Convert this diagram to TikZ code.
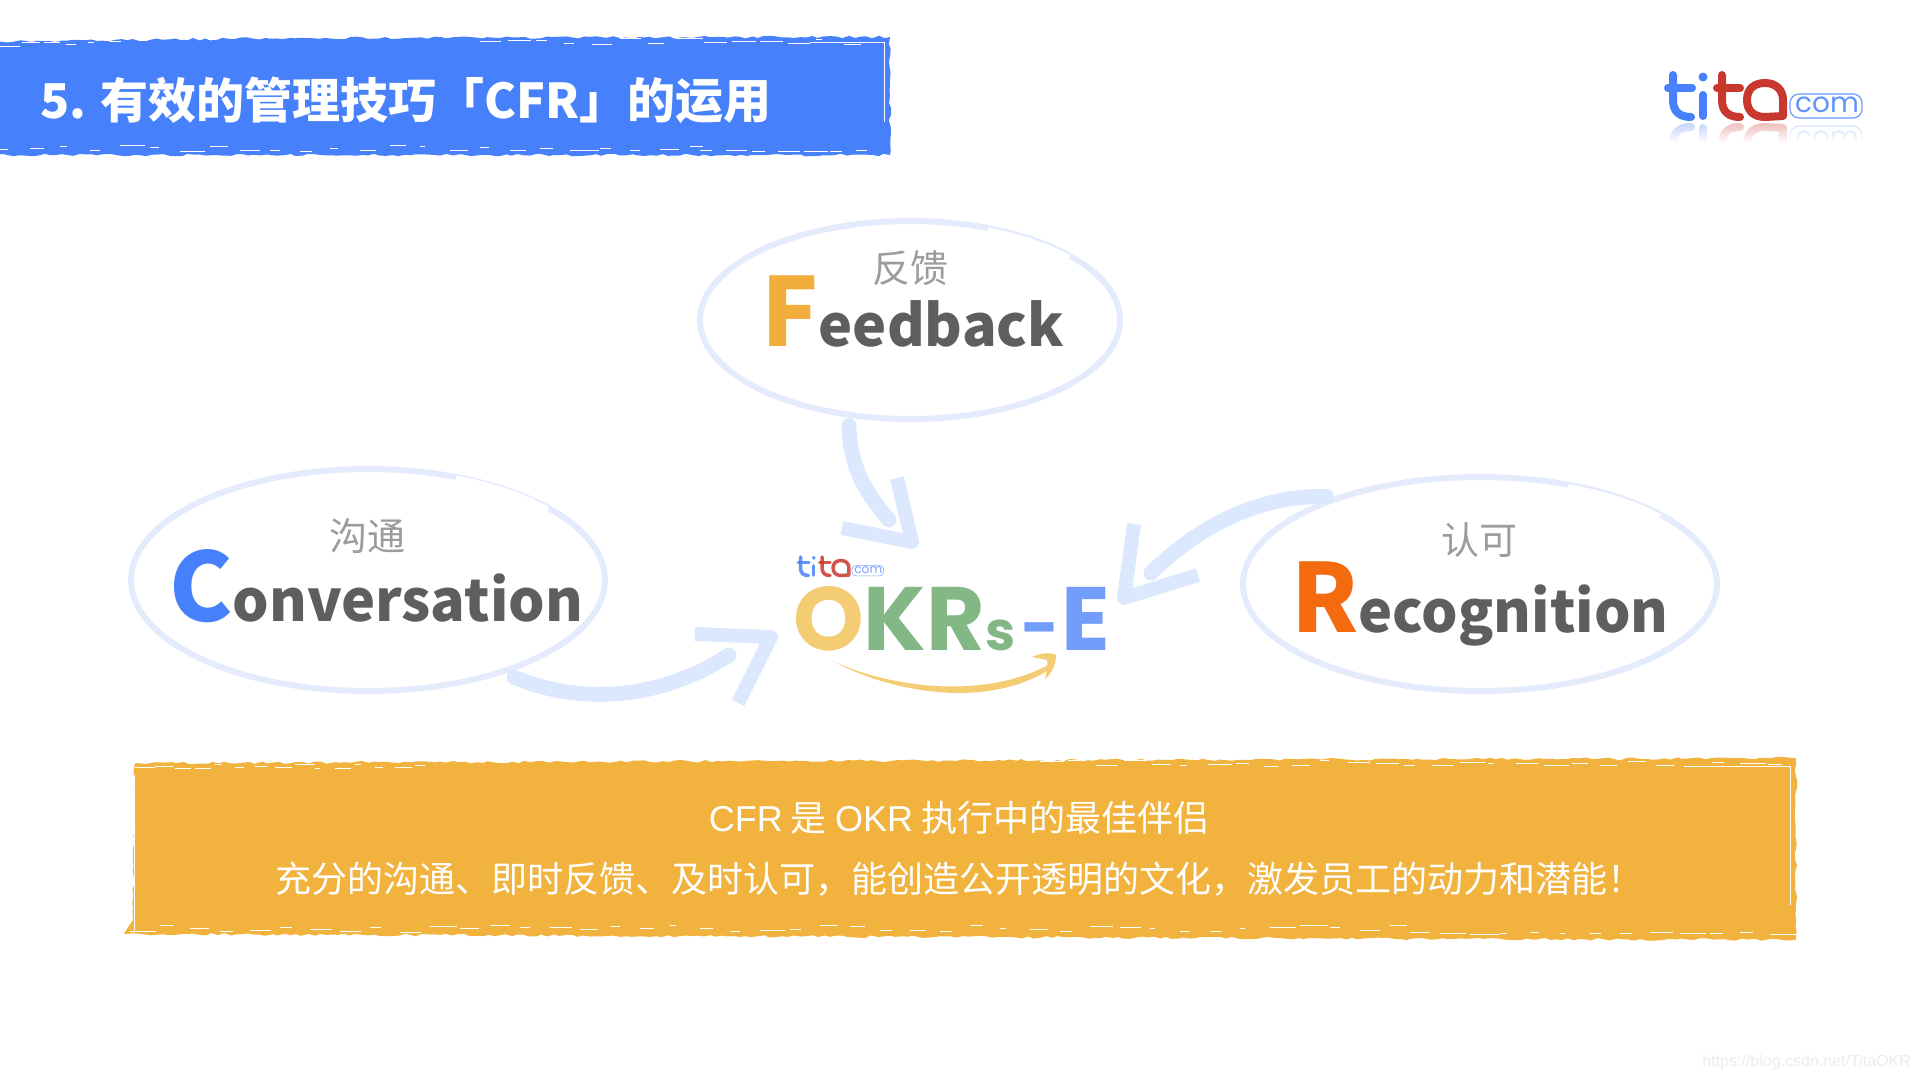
\documentclass[tikz,border=0pt]{standalone}
\usepackage{fontspec}
\setmainfont{Noto Sans}
\newfontfamily\cjk{Noto Sans CJK SC}
\newfontfamily\latinf{Liberation Sans}
\newfontfamily\okrf{Poppins}
\usetikzlibrary{shapes.geometric,decorations.pathmorphing,fadings}
\definecolor{slideblue}{HTML}{4680FA}
\definecolor{slideorange}{HTML}{F2B23E}
\definecolor{palering}{HTML}{E3EBFC}
\definecolor{palearrow}{HTML}{DCE8FD}
\definecolor{labelgray}{HTML}{9C9C9C}
\definecolor{worddark}{HTML}{5E5E5E}
\definecolor{lettercf}{HTML}{F2AE3C}
\definecolor{letterr}{HTML}{F46A0F}
\definecolor{okryellow}{HTML}{F4CC74}
\definecolor{okrgreen}{HTML}{83B785}
\definecolor{okrblue}{HTML}{739DFB}
\definecolor{titared}{HTML}{C8382E}
\newcommand{\brushrow}[5]{\foreach \xa in {#1,#2,...,#3} {
  \pgfmathsetmacro{\xb}{\xa+5+rnd*(#2-#1)*.8}
  \pgfmathsetmacro{\ya}{#4+rnd*#5}
  \path[draw,streak] (\xa,\ya) -- (\xb,\ya);
}}
\tikzset{
  ring/.style={draw=palering, line width=6pt, ellipse, inner sep=0pt},
  ringgap/.style={white, line width=5pt},
  shaft/.style={palearrow, line width=15pt, line cap=round},
  barb/.style={palearrow, line width=14pt, line join=round},
  brush/.style={decorate, decoration={random steps, segment length=6pt, amplitude=1.3pt}},
  streak/.style={white, line width=.9pt},
  cnlabel/.style={labelgray, inner sep=0pt, font=\cjk\fontsize{38}{38}\selectfont},
  bigword/.style={anchor=base west, inner sep=0pt, font=\cjk\bfseries},
  pics/titalogo/.style={code={
    \begin{scope}[scale=#1, line cap=round, line width=#1*8pt]
    \draw[slideblue] (33,25) -- (33,50) .. controls (33,62) and (40,67) .. (51,67);
    \draw[slideblue] (28,38) -- (52,38);
    \fill[slideblue] (63,27) circle (4.5pt);
    \draw[slideblue] (63,45) -- (63,66);
    \draw[titared] (82,25) -- (82,50) .. controls (82,62) and (89,67) .. (100,67);
    \draw[titared] (77,38) -- (100,38);
    \draw[titared] (143,66) -- (125,67) .. controls (113,67) and (107,60) .. (107,50) .. controls (107,39) and (114,33) .. (125,33) .. controls (136,33) and (143,40) .. (143,50) -- (143,66);
    \draw[slideblue!80, line width=#1*1.2pt, rounded corners=#1*9pt] (150,44) rectangle (222,68);
    \node[slideblue!85, scale=#1, inner sep=0pt, font=\okrf\fontsize{28}{28}\selectfont] (comtext) at (187,55) {com};
    \end{scope}
  }}
}
\begin{document}
\begin{tikzpicture}[x=1pt,y=-1pt]
\useasboundingbox (0,0) rectangle (1920,1080);
\pgfmathsetseed{7}
\fill[slideblue, brush] (-5,42) -- (290,38) -- (890,37) -- (890,155) -- (-5,155) -- cycle;
\brushrow{0}{22}{125}{41}{6}
\brushrow{480}{508}{880}{38}{7}
\brushrow{0}{30}{690}{145}{6}
\brushrow{700}{726}{880}{150}{2}
\path[draw,streak] (810,42) -- (884,42) -- (884,122);
\node[white, anchor=west, inner sep=0pt, font=\cjk\bfseries\fontsize{48}{48}\selectfont] (title) at (40,100) {5. 有效的管理技巧「CFR」的运用};
\begin{scope}[opacity=.3]
\pic[yscale=-1] (mirrortita) at (1640,194) {titalogo=1};
\end{scope}
\fill[white] (1650,142) rectangle (1880,180);
\fill[white, path fading=north] (1650,124) rectangle (1880,143);
\pic (bigtita) at (1640,50) {titalogo=1};
\node[ring, minimum width=420pt, minimum height=198pt] (feedback) at (910,320) {};
\node[ring, minimum width=474pt, minimum height=222pt] (conversation) at (368,580) {};
\node[ring, minimum width=474pt, minimum height=214pt] (recognition) at (1480,584) {};
\path[draw,ringgap] (feedback.center) ++(-68:208 and 97) arc[start angle=-68,end angle=-40,x radius=208,y radius=97];
\path[draw,ringgap] (conversation.center) ++(-68:235 and 110) arc[start angle=-68,end angle=-40,x radius=235,y radius=110];
\path[draw,ringgap] (recognition.center) ++(-68:235 and 105) arc[start angle=-68,end angle=-40,x radius=235,y radius=105];
\node[cnlabel] (fblabel) at (910,268) {反馈};
\node[cnlabel] (convlabel) at (367,536) {沟通};
\node[cnlabel] (recolabel) at (1479,540) {认可};
\node[bigword, worddark] (fbword) at (761,346) {\fontsize{95}{95}\selectfont\textcolor{lettercf}{F}\fontsize{57.5}{57.5}\selectfont eedback};
\node[bigword, worddark] (convword) at (169,621) {\fontsize{95}{95}\selectfont\textcolor{slideblue}{C}\fontsize{57.5}{57.5}\selectfont onversation};
\node[bigword, worddark] (recoword) at (1291,632) {\fontsize{95}{95}\selectfont\textcolor{letterr}{R}\fontsize{57.5}{57.5}\selectfont ecognition};
\pic[opacity=.85] (smalltita) at (786,546) {titalogo=.44};
\node[anchor=base west, inner sep=0pt, font=\okrf\bfseries\fontsize{90}{90}\selectfont] (okrlogo) at (793,650) {\textcolor{okryellow}{O}\textcolor{okrgreen}{KR{\fontsize{54}{54}\selectfont s}}\kern6pt\textcolor{okrblue}{{\fontsize{66}{66}\selectfont -}\kern2pt E}};
\fill[okryellow] (833,661) .. controls (890,688) and (985,700) .. (1050,664) -- (1052,668) .. controls (985,712) and (885,690) .. (833,661) -- cycle;
\fill[okryellow] (1032,657) .. controls (1040,653) and (1050,652) .. (1056,655) .. controls (1056,665) and (1052,673) .. (1045,679) .. controls (1047,670) and (1048,665) .. (1047,660) -- cycle;
\coordinate (fbend) at (889,520);
\coordinate (fbtip) at (912,542);
\coordinate (fbup) at (897,478);
\coordinate (fbleft) at (842,528);
\path[draw,shaft] ([yshift=-8pt]feedback.238) .. controls (850,470) and (868,495) .. (fbend);
\path[draw,barb] (fbup) -- (fbtip) -- (fbleft);
\coordinate (recoend) at (1151,573);
\coordinate (recotip) at (1124,598);
\coordinate (recoup) at (1134,524);
\coordinate (recoright) at (1198,575);
\path[draw,shaft] ([xshift=-8pt]recognition.149) .. controls (1260,495) and (1200,525) .. (recoend);
\path[draw,barb] (recoup) -- (recotip) -- (recoright);
\coordinate (convend) at (729,655);
\coordinate (convtip) at (771,637);
\coordinate (convleft) at (695,634);
\coordinate (convdown) at (738,703);
\path[draw,shaft] ([xshift=8pt,yshift=-4pt]conversation.326) .. controls (580,705) and (660,700) .. (convend);
\path[draw,barb] (convleft) -- (convtip) -- (convdown);
\fill[slideorange, brush] (135,763) -- (800,761) -- (1796,758) -- (1796,940) -- (124,934) -- (133,920) -- cycle;
\brushrow{135}{155}{420}{763}{6}
\brushrow{1040}{1068}{1790}{760}{7}
\brushrow{130}{160}{1400}{925}{7}
\brushrow{1410}{1440}{1790}{932}{3}
\path[draw,streak] (1700,766) -- (1790,766) -- (1790,905);
\path[draw,streak] (134,775) -- (134,930);
\node[white, inner sep=0pt, font=\cjk\fontsize{36}{36}\selectfont] (cfrline) at (959,818) {{\latinf CFR} 是 {\latinf OKR} 执行中的最佳伴侣};
\node[white, inner sep=0pt, font=\cjk\fontsize{36}{36}\selectfont] (effectline) at (959,879) {充分的沟通、即时反馈、及时认可，能创造公开透明的文化，激发员工的动力和潜能！};
\node[anchor=east, inner sep=0pt, text=black!8, font=\latinf\fontsize{16}{16}\selectfont] (watermark) at (1911,1062) {https://blog.csdn.net/TitaOKR};
\end{tikzpicture}
\end{document}
